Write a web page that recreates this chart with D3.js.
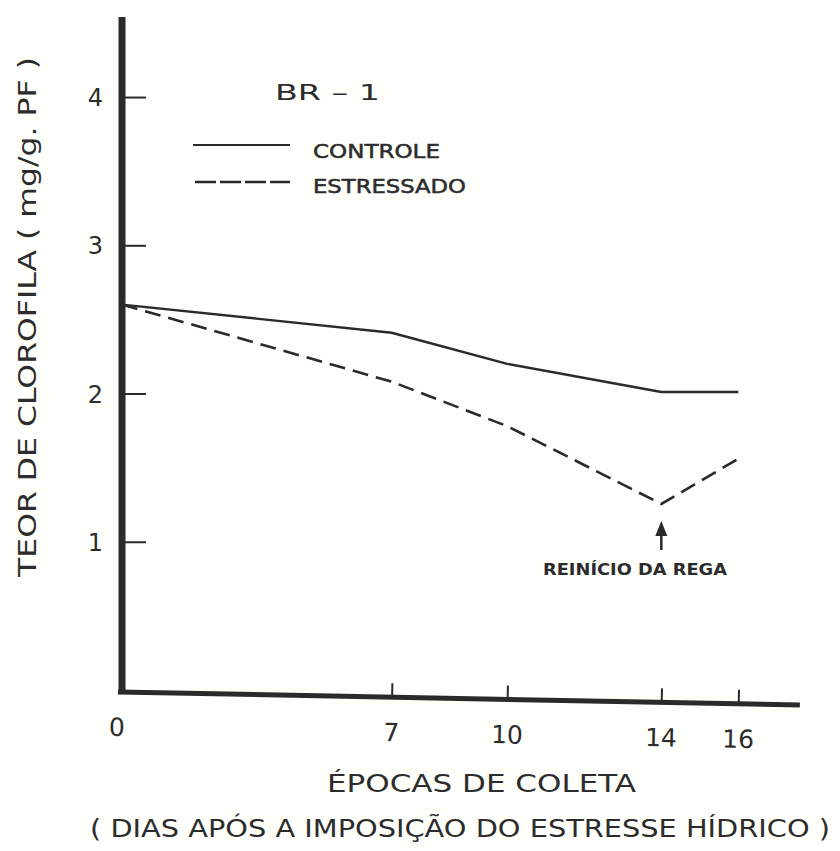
<!DOCTYPE html>
<html>
<head>
<meta charset="utf-8">
<script src="https://cdn.jsdelivr.net/npm/d3@7"></script>
<style>
  html, body { margin: 0; padding: 0; background: #fefefb; }
  svg { display: block; }
  text { fill: #2c2c2c; font-family: "DejaVu Sans", "Liberation Sans", sans-serif; }
</style>
</head>
<body>
<svg id="chart" width="840" height="851"></svg>
<script>
// ---- data ----
const days = [0, 7, 10, 14, 16];
const controle = [2.6, 2.41, 2.2, 2.01, 2.01];
const estressado = [2.6, 2.08, 1.78, 1.255, 1.56];
const yTickValues = [1, 2, 3, 4];
const xTickValues = [0, 7, 10, 14, 16];
const title = "BR – 1";
const seriesNames = ["CONTROLE", "ESTRESSADO"];
const yTitle = "TEOR  DE  CLOROFILA   ( mg/g.  PF )";
const xTitle = "ÉPOCAS  DE  COLETA";
const xSubtitle = "( DIAS  APÓS  A  IMPOSIÇÃO  DO  ESTRESSE  HÍDRICO )";
const annotation = "REINÍCIO DA REGA";
const annotationDay = 14;

const ink = "#2a2a2a";
const svg = d3.select("#chart");

const x = d3.scaleLinear().domain([0, 17.6]).range([122, 800]);
const y = d3.scaleLinear().domain([0, 4.54]).range([690, 17]);

// ---- y axis ----
const yAxis = d3.axisLeft(y)
  .tickValues(yTickValues)
  .tickFormat(d3.format("d"))
  .tickSizeInner(-24)
  .tickSizeOuter(0)
  .tickPadding(19);
const gy = svg.append("g").attr("transform", "translate(122,0)").call(yAxis);
gy.select(".domain").attr("stroke", ink).attr("stroke-width", 7).attr("d", `M0,${y(4.54)}V${y(0) + 4}`);
gy.selectAll(".tick line").attr("stroke", ink).attr("stroke-width", 2);
gy.selectAll(".tick text")
  .attr("font-size", 24)
  .attr("fill", "#2c2c2c")
  .attr("font-family", "DejaVu Sans, sans-serif")
  .attr("dy", "0.36em");

// ---- x axis (slightly tilted as in the original drawing) ----
const xAxis = d3.axisBottom(x)
  .tickValues(xTickValues)
  .tickFormat(d3.format("d"))
  .tickSizeInner(-14)
  .tickSizeOuter(0)
  .tickPadding(0);
const gx = svg.append("g")
  .attr("transform", `rotate(1.1, 122, ${y(0) + 2}) translate(0, ${y(0) + 2})`)
  .call(xAxis);
gx.select(".domain").attr("stroke", ink).attr("stroke-width", 5).attr("d", `M${x(0) - 4},0H${x(17.6)}`);
gx.selectAll(".tick line").attr("stroke", ink).attr("stroke-width", 2)
  .attr("display", d => d === 0 ? "none" : null);
gx.selectAll(".tick text")
  .attr("font-size", 25)
  .attr("fill", "#2c2c2c")
  .attr("font-family", "DejaVu Sans, sans-serif")
  .attr("y", 44)
  .attr("dy", 0)
  .attr("dx", d => d === 0 ? -5 : 0);

// ---- lines ----
const line = d3.line().x(d => x(d[0])).y(d => y(d[1]));
svg.append("path")
  .datum(days.map((d, i) => [d, controle[i]]))
  .attr("d", line)
  .attr("fill", "none").attr("stroke", ink).attr("stroke-width", 2.4)
  .attr("stroke-linejoin", "round");
svg.append("path")
  .datum(days.map((d, i) => [d, estressado[i]]))
  .attr("d", line)
  .attr("fill", "none").attr("stroke", ink).attr("stroke-width", 2.6)
  .attr("stroke-dasharray", "16,8");

// ---- legend ----
svg.append("text").text(title)
  .attr("x", 275).attr("y", 100)
  .attr("font-size", 21)
  .attr("textLength", 105).attr("lengthAdjust", "spacingAndGlyphs");
svg.append("line").attr("x1", 193).attr("x2", 290).attr("y1", 145).attr("y2", 145)
  .attr("stroke", ink).attr("stroke-width", 2.2);
svg.append("line").attr("x1", 195).attr("x2", 290).attr("y1", 182).attr("y2", 182)
  .attr("stroke", ink).attr("stroke-width", 2.4).attr("stroke-dasharray", "21,4");
svg.append("text").text(seriesNames[0])
  .attr("x", 313).attr("y", 158)
  .attr("font-size", 19)
  .attr("stroke", "#2c2c2c").attr("stroke-width", 0.5)
  .attr("textLength", 127).attr("lengthAdjust", "spacingAndGlyphs");
svg.append("text").text(seriesNames[1])
  .attr("x", 313).attr("y", 193)
  .attr("font-size", 19)
  .attr("stroke", "#2c2c2c").attr("stroke-width", 0.5)
  .attr("textLength", 153).attr("lengthAdjust", "spacingAndGlyphs");

// ---- annotation ----
const ax = x(annotationDay);
svg.append("line")
  .attr("x1", ax).attr("x2", ax).attr("y1", 532).attr("y2", 550)
  .attr("stroke", ink).attr("stroke-width", 2.5);
svg.append("path")
  .attr("d", `M${ax},521L${ax - 6},536L${ax + 6},536Z`)
  .attr("fill", ink);
svg.append("text").text(annotation)
  .attr("x", 543).attr("y", 575)
  .attr("font-size", 16).attr("font-weight", "bold")
  .attr("font-family", "Liberation Sans, Arial, sans-serif")
  .attr("textLength", 184).attr("lengthAdjust", "spacingAndGlyphs");

// ---- axis titles ----
svg.append("text").text(yTitle)
  .attr("transform", "translate(36,577) rotate(-90)")
  .attr("x", 0).attr("y", 0)
  .attr("font-size", 25)
  .attr("textLength", 520).attr("lengthAdjust", "spacingAndGlyphs");
svg.append("text").text(xTitle)
  .attr("x", 327).attr("y", 792)
  .attr("font-size", 24)
  .attr("textLength", 309).attr("lengthAdjust", "spacingAndGlyphs");
svg.append("text").text(xSubtitle)
  .attr("x", 90).attr("y", 837)
  .attr("font-size", 24)
  .attr("textLength", 740).attr("lengthAdjust", "spacingAndGlyphs");
</script>
</body>
</html>
